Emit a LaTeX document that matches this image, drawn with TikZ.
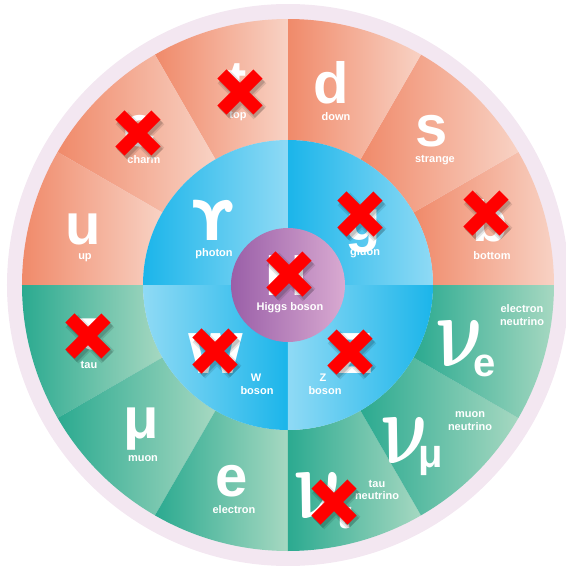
\documentclass[tikz,border=0pt]{standalone}
\usepackage{fontspec}
\setmainfont{Liberation Sans}
\newfontfamily\greekfont{DejaVu Sans}

\definecolor{ringpink}{HTML}{F3E7F1}
\definecolor{quarkdark}{HTML}{F08A6A}
\definecolor{quarklight}{HTML}{F8D2C4}
\definecolor{leptondark}{HTML}{2BAA90}
\definecolor{leptonlight}{HTML}{A6D8C1}
\definecolor{bosondark}{HTML}{1BB5EA}
\definecolor{bosonlight}{HTML}{8FDAF5}
\definecolor{higgsdark}{HTML}{9A5FA8}
\definecolor{higgslight}{HTML}{D9AAD1}
\definecolor{nored}{HTML}{FF0000}

\tikzset{
  sym/.style={text=white, font=\fontsize{58}{60}\selectfont\bfseries, inner sep=0pt, anchor=base},
  nusym/.style={text=white, font=\fontsize{10}{12}\selectfont, inner sep=0pt, anchor=base,
    xslant=-0.2, transform shape},
  subsym/.style={text=white, font=\fontsize{40}{42}\selectfont\bfseries, inner sep=0pt, anchor=base},
  lbl/.style={text=white, font=\fontsize{11}{12}\selectfont\bfseries, inner sep=0pt, anchor=base},
  xmark/.pic={
    % soft shadow under the cross
    \draw[black, opacity=.10, line width=18] (-16,-21) -- (20,15) (-16,15) -- (20,-21);
    \draw[black, opacity=.15, line width=14] (-16,-21) -- (20,15) (-16,15) -- (20,-21);
    \draw[nored, line width=13] (-18,-18) -- (18,18) (-18,18) -- (18,-18);
  }
}

\begin{document}
\begin{tikzpicture}[x=1pt, y=1pt]
    \useasboundingbox (-288,-281) rectangle (278,285);

    % Outer ring
    \fill[ringpink] (0,0) circle (281);

    % Quarks (upper half) and leptons (lower half)
    \foreach \a in {0,30,...,150}
        \shade[left color=quarkdark, right color=quarklight]
            (\a:145) -- (\a:266) arc (\a:\a+30:266) -- (\a+30:145) arc (\a+30:\a:145) -- cycle;
    \foreach \a in {180,210,...,330}
        \shade[left color=leptondark, right color=leptonlight]
            (\a:145) -- (\a:266) arc (\a:\a+30:266) -- (\a+30:145) arc (\a+30:\a:145) -- cycle;

    % Gauge bosons
    \shade[left color=bosondark, right color=bosonlight] (0,0) -- (145,0) arc (0:90:145) -- cycle;
    \shade[left color=bosondark, right color=bosonlight] (0,0) -- (0,145) arc (90:180:145) -- cycle;
    \shade[left color=bosonlight, right color=bosondark] (0,0) -- (-145,0) arc (180:270:145) -- cycle;
    \shade[left color=bosonlight, right color=bosondark] (0,0) -- (0,-145) arc (270:360:145) -- cycle;

    % Higgs
    \shade[left color=higgsdark, right color=higgslight] (0,0) circle (57);

    % Quark symbols
    \node[sym] (u) at (-205, 41) {u};
    \node[sym] (c) at (-148, 139) {c};
    \node[sym] (t) at (-51, 184) {t};
    \node[sym] (d) at (43, 182) {d};
    \node[sym] (s) at (144, 139) {s};
    \node[sym] (b) at (202, 44) {b};
    \node[lbl] (upL) at (-203, 26) {up};
    \node[lbl] (charmL) at (-144, 122) {charm};
    \node[lbl] (topL) at (-50, 167) {top};
    \node[lbl] (downL) at (48, 165) {down};
    \node[lbl] (strangeL) at (147, 123) {strange};
    \node[lbl] (bottomL) at (204, 26) {bottom};

    % Boson symbols
    \node[sym, font={\fontsize{55}{57}\selectfont\greekfont\bfseries}] (gamma) at (-75, 45) {ϒ};
    \node[sym] (g) at (75, 45) {g};
    \node[sym] (W) at (-72, -88) {W};
    \node[sym] (Z) at (67, -88) {Z};
    \node[sym] (H) at (-2, -10) {H};
    \node[lbl] (photonL) at (-74, 29) {photon};
    \node[lbl] (gluonL) at (77, 30) {gluon};
    \node[lbl] (WL) at (-32, -96) {W};
    \node[lbl] (WL2) at (-31, -109) {boson};
    \node[lbl] (ZL) at (35, -96) {Z};
    \node[lbl] (ZL2) at (37, -109) {boson};
    \node[lbl] (HL) at (2, -25) {Higgs boson};

    % Lepton symbols
    \node[sym] (tau) at (-200, -64) {τ};
    \node[sym] (mu) at (-147, -153) {μ};
    \node[sym] (e) at (-56, -211) {e};
    \node[lbl] (tauL) at (-199, -83) {tau};
    \node[lbl] (muL) at (-145, -176) {muon};
    \node[lbl] (eL) at (-54, -228) {electron};

    % Neutrinos
    \node[nusym] (nue) at (178, -81) {\scalebox{7.6}[10.2]{\boldmath$\nu$}};
    \node[subsym] (nueS) at (197, -91) {e};
    \node[nusym] (numu) at (123, -178) {\scalebox{7.6}[10.2]{\boldmath$\nu$}};
    \node[subsym] (numuS) at (143, -182) {μ};
    \node[nusym] (nutau) at (36, -233) {\scalebox{7.6}[10.2]{\boldmath$\nu$}};
    \node[subsym] (nutauS) at (55, -243) {τ};
    \node[lbl] (nueL) at (234, -27) {electron};
    \node[lbl] (nueL2) at (234, -40) {neutrino};
    \node[lbl] (numuL) at (182, -132) {muon};
    \node[lbl] (numuL2) at (182, -145) {neutrino};
    \node[lbl] (nutauL) at (89, -202) {tau};
    \node[lbl] (nutauL2) at (89, -214) {neutrino};

    % Crossed-out particles
    \pic at (-48, 193) {xmark};
    \pic at (-150, 152) {xmark};
    \pic at (72, 71) {xmark};
    \pic at (198, 72) {xmark};
    \pic at (1, 11) {xmark};
    \pic at (-200, -51) {xmark};
    \pic at (-73, -66) {xmark};
    \pic at (62, -67) {xmark};
    \pic at (46, -217) {xmark};
\end{tikzpicture}
\end{document}
